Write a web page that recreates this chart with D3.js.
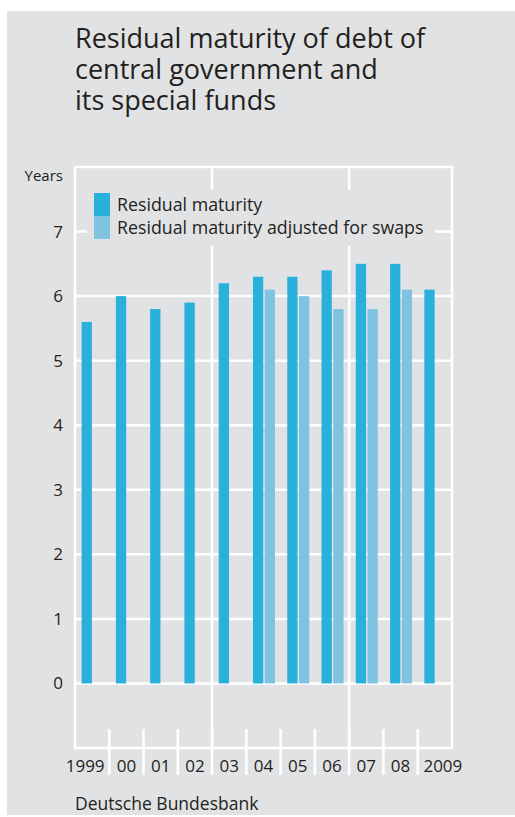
<!DOCTYPE html>
<html>
<head>
<meta charset="utf-8">
<script src="https://cdn.jsdelivr.net/npm/d3@7"></script>
<style>
  html, body { margin: 0; padding: 0; background: #ffffff; }
  svg { display: block; }
  text { font-family: "Open Sans", "Noto Sans", sans-serif; fill: #231f20; }
</style>
</head>
<body>
<svg id="chart" width="515" height="817"></svg>
<script>
// Residual maturity of federal debt, in years
const years = ["1999", "00", "01", "02", "03", "04", "05", "06", "07", "08", "2009"];
const residualMaturity = [5.6, 6.0, 5.8, 5.9, 6.2, 6.3, 6.3, 6.4, 6.5, 6.5, 6.1];
const adjustedForSwaps = [null, null, null, null, null, 6.1, 6.0, 5.8, 5.8, 6.1, null];
const yTicks = [0, 1, 2, 3, 4, 5, 6, 7];
const seriesNames = ["Residual maturity", "Residual maturity adjusted for swaps"];
const titleLines = ["Residual maturity of debt of", "central government and", "its special funds"];
const yUnit = "Years";
const source = "Deutsche Bundesbank";

const colors = { rm: "#29b1dc", adj: "#80c3e1", panel: "#e1e2e4", grid: "#ffffff", text: "#231f20" };

const svg = d3.select("#chart");

// grey panel
svg.append("rect").attr("x", 7).attr("y", 11).attr("width", 508).attr("height", 804).attr("fill", colors.panel);

// title
const title = svg.append("text").attr("x", 75).attr("y", 48).style("font-size", "27px");
titleLines.forEach((t, i) => title.append("tspan").attr("x", 75).attr("y", 48 + i * 31).text(t));

const plot = { left: 75, right: 452, top: 167, bottom: 748 };

const x = d3.scaleBand().domain(years).range([plot.left, plot.right]).padding(0);
const y = d3.scaleLinear().domain([-1, 8]).range([plot.bottom, plot.top]);
const bw = x.bandwidth();
const sub = d3.scaleBand().domain(["rm", "adj"]).range([bw * 0.193, bw * 0.835]).paddingInner(0.12);

// horizontal gridlines
svg.append("g").selectAll("line").data(yTicks).join("line")
  .attr("x1", plot.left).attr("x2", plot.right)
  .attr("y1", d => y(d)).attr("y2", d => y(d))
  .attr("stroke", colors.grid).attr("stroke-width", 2.5);

// vertical dividers between 2002/2003 and 2006/2007
svg.append("g").selectAll("line").data(["03", "07"]).join("line")
  .attr("x1", d => x(d)).attr("x2", d => x(d))
  .attr("y1", plot.top).attr("y2", plot.bottom)
  .attr("stroke", colors.grid).attr("stroke-width", 2.5);

// frame
svg.append("rect")
  .attr("x", plot.left).attr("y", plot.top)
  .attr("width", plot.right - plot.left).attr("height", plot.bottom - plot.top)
  .attr("fill", "none").attr("stroke", colors.grid).attr("stroke-width", 2.5);

// year separators crossing the bottom of the frame
svg.append("g").selectAll("line").data(years.slice(1)).join("line")
  .attr("x1", d => x(d)).attr("x2", d => x(d))
  .attr("y1", 729).attr("y2", 775)
  .attr("stroke", colors.grid).attr("stroke-width", 2.5);

// legend backdrop
svg.append("rect").attr("x", 87).attr("y", 190).attr("width", 348).attr("height", 56).attr("fill", colors.panel);

// bars
const rows = years.map((yr, i) => ({ year: yr, rm: residualMaturity[i], adj: adjustedForSwaps[i] }));
const bars = svg.append("g");
["rm", "adj"].forEach(key => {
  bars.selectAll("rect." + key).data(rows.filter(r => r[key] != null)).join("rect")
    .attr("class", key)
    .attr("x", d => x(d.year) + sub(key))
    .attr("width", sub.bandwidth())
    .attr("y", d => y(d[key]))
    .attr("height", d => y(0) - y(d[key]))
    .attr("fill", colors[key]);
});

// y axis labels
const yAxis = d3.axisLeft(y).tickValues(yTicks).tickSize(0).tickPadding(0);
const gy = svg.append("g").attr("transform", `translate(${plot.left - 12},0)`).call(yAxis);
gy.select(".domain").remove();
gy.selectAll("text").style("font-size", "17px").style("font-family", null).attr("fill", colors.text);

svg.append("text").attr("x", 63).attr("y", 181).attr("text-anchor", "end").style("font-size", "15px").text(yUnit);

// x axis labels
const xAxis = d3.axisBottom(x).tickSize(0).tickPadding(0);
const gx = svg.append("g").attr("transform", `translate(0,${plot.bottom + 12})`).call(xAxis);
gx.select(".domain").remove();
gx.selectAll("text").style("font-size", "17px").style("font-family", null).attr("fill", colors.text)
  .attr("dx", (d, i) => i === 0 ? -7 : (i === years.length - 1 ? 8 : 0));

// legend
const legend = svg.append("g");
["rm", "adj"].forEach((key, i) => {
  legend.append("rect").attr("x", 94).attr("y", 193 + i * 23).attr("width", 16).attr("height", 23).attr("fill", colors[key]);
  legend.append("text").attr("x", 117).attr("y", 211 + i * 23).style("font-size", "17.8px").text(seriesNames[i]);
});

// source
svg.append("text").attr("x", 75).attr("y", 810).style("font-size", "17.5px").text(source);
</script>
</body>
</html>
